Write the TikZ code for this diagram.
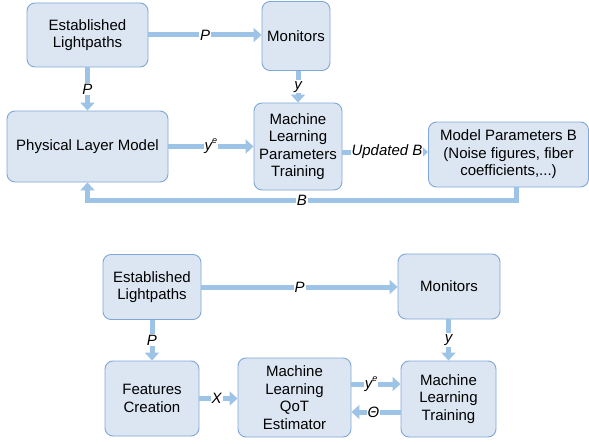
\documentclass[tikz,border=0pt]{standalone}
\usepackage{fontspec}
\setmainfont{Liberation Sans}
\usetikzlibrary{arrows.meta}
\definecolor{boxfill}{HTML}{DCE6F2}
\definecolor{boxline}{HTML}{7FA7D7}
\definecolor{flow}{HTML}{9DC3E6}
\newcommand{\supe}{\raisebox{0.45em}{\fontsize{9}{9}\selectfont e}}
\begin{document}
\begin{tikzpicture}[x=1pt,y=-1pt,
  blk/.style={draw=boxline, line width=0.9pt, fill=boxfill, rounded corners=8pt,
    align=center, inner sep=2pt, font=\fontsize{15}{17.5}\selectfont},
  flowline/.style={draw=flow, line width=5pt, -{Triangle[width=14pt,length=8pt]}},
  lab/.style={fill=white, inner sep=1pt, font=\fontsize{15}{17.5}\selectfont\itshape}]
\useasboundingbox (0,0) rectangle (589,444);

% ---- upper scheme: physical layer model tuning ----
\node[blk, minimum width=121pt, minimum height=64pt] (el1) at (87.5,35) {Established\\Lightpaths};
\node[blk, minimum width=68pt, minimum height=69pt] (mon1) at (296,36) {Monitors};
\node[blk, minimum width=161pt, minimum height=71pt] (plm) at (87.5,146.5) {Physical Layer Model};
\node[blk, minimum width=88pt, minimum height=87pt] (mlpt) at (298,146.5) {Machine\\Learning\\Parameters\\Training};
\node[blk, minimum width=160pt, minimum height=65pt] (mpb) at (508.5,154.5) {Model Parameters B\\(Noise figures, fiber\\coefficients,...)};

\draw[flowline] (el1.east) -- node[lab] {P} (mon1.west |- el1.east);
\draw[flowline] (el1.south) -- node[lab] {P} (plm.north);
\draw[flowline] (mon1.south -| mlpt.north) -- node[lab] {y} (mlpt.north);
\draw[flowline] (plm.east) -- node[lab] {y\supe} (mlpt.west |- plm.east);
\coordinate (ub) at (mlpt.east |- 0,152);
\draw[flowline] (ub) -- node[lab, pos=0.52] {Updated B} (ub -| mpb.west);
\coordinate (bs) at (516,187);
\coordinate (bc1) at (516,200);
\coordinate (bc2) at (87.5,200);
\draw[flowline] (bs) -- (bc1) -- node[lab, pos=0.5] {B} (bc2) -- (plm.south);

% ---- lower scheme: QoT estimator training ----
\node[blk, minimum width=98pt, minimum height=65pt] (el2) at (152,287) {Established\\Lightpaths};
\node[blk, minimum width=102pt, minimum height=65pt] (mon2) at (449,286.5) {Monitors};
\node[blk, minimum width=94pt, minimum height=75pt] (fc) at (152,398.5) {Features\\Creation};
\node[blk, minimum width=113pt, minimum height=79pt] (mlqe) at (294.5,397.5) {Machine\\Learning\\QoT\\Estimator};
\node[blk, minimum width=95pt, minimum height=76pt] (mlt) at (448.5,399) {Machine\\Learning\\Training};

\draw[flowline] (el2.east) -- node[lab] {P} (mon2.west |- el2.east);
\draw[flowline] (el2.south) -- node[lab] {P} (fc.north);
\draw[flowline] (mon2.south -| mlt.north) -- node[lab] {y} (mlt.north);
\draw[flowline] (fc.east) -- node[lab, pos=0.45] {X} (mlqe.west |- fc.east);
\coordinate (qa) at (mlqe.east |- 0,384);
\draw[flowline] (qa) -- node[lab, pos=0.4] {y\supe} (qa -| mlt.west);
\coordinate (qb) at (mlt.west |- 0,412);
\draw[flowline] (qb) -- node[lab, pos=0.55] {Θ} (qb -| mlqe.east);
\end{tikzpicture}
\end{document}
